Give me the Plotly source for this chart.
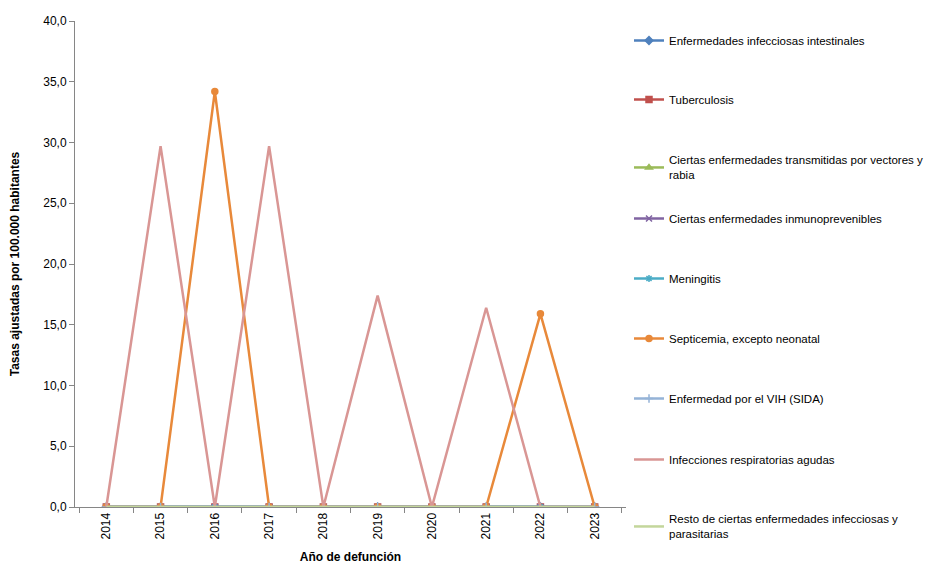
import plotly.graph_objects as go

years = ["2014", "2015", "2016", "2017", "2018", "2019", "2020", "2021", "2022", "2023"]

series_names = [
    "Enfermedades infecciosas intestinales",
    "Tuberculosis",
    "Ciertas enfermedades transmitidas por vectores y<br>rabia",
    "Ciertas enfermedades inmunoprevenibles",
    "Meningitis",
    "Septicemia, excepto neonatal",
    "Enfermedad por el VIH (SIDA)",
    "Infecciones respiratorias agudas",
    "Resto de ciertas enfermedades infecciosas y<br>parasitarias",
]

intestinales = [0, 0, 0, 0, 0, 0, 0, 0, 0, 0]
tuberculosis = [0, 0, 0, 0, 0, 0, 0, 0, 0, 0]
vectores = [0, 0, 0, 0, 0, 0, 0, 0, 0, 0]
inmunoprevenibles = [0, 0, 0, 0, 0, 0, 0, 0, 0, 0]
meningitis = [0, 0, 0, 0, 0, 0, 0, 0, 0, 0]
septicemia = [0, 0, 34.2, 0, 0, 0, 0, 0, 15.9, 0]
vih = [0, 0, 0, 0, 0, 0, 0, 0, 0, 0]
respiratorias = [0, 29.7, 0, 29.7, 0, 17.4, 0, 16.4, 0, 0]
resto = [0, 0, 0, 0, 0, 0, 0, 0, 0, 0]

values = [intestinales, tuberculosis, vectores, inmunoprevenibles, meningitis,
          septicemia, vih, respiratorias, resto]
colors = ["#4F81BD", "#C0504D", "#9BBB59", "#8064A2", "#4BACC6",
          "#E8893A", "#95B3D7", "#D99694", "#C3D69B"]
symbols = ["diamond", "square", "triangle-up", "x-thin", "asterisk",
           "circle", "cross-thin", None, None]

# legend item centre positions (px from top of window)
legend_centers = [40, 99, 160, 218, 278, 338, 398, 459, 519]

OFF = 8  # default page body margin
W, H = 934 - OFF, 564 - OFF
fig = go.Figure()
legend_layouts = {}
for i, (name, vals, col, sym) in enumerate(zip(series_names, values, colors, symbols)):
    if sym is None:
        mode = "lines"
        marker = dict()
    else:
        mode = "lines+markers"
        marker = dict(symbol=sym, size=6, color=col, line=dict(color=col, width=1.5))
    lg = "legend" if i == 0 else f"legend{i + 1}"
    fig.add_trace(go.Scatter(
        x=years, y=vals, name=name, mode=mode,
        line=dict(color=col, width=2.5), marker=marker,
        legend=lg,
    ))
    top_px = legend_centers[i] - OFF - 14
    legend_layouts[lg] = dict(
        xref="container", yref="container",
        x=(670 - OFF - 41) / W, xanchor="left",
        y=1 - top_px / H, yanchor="top",
        font=dict(size=11.5, family="Liberation Sans, Arial", color="#000000"),
        itemwidth=30, bgcolor="rgba(0,0,0,0)",
    )

fig.update_layout(
    width=W, height=H,
    paper_bgcolor="white", plot_bgcolor="white",
    margin=dict(l=75 - OFF, r=934 - 626, t=21 - OFF, b=564 - 507),
    separators=",.",
    font=dict(family="Liberation Sans, Arial", size=12, color="#000000"),
    showlegend=True,
    xaxis=dict(
        type="category", tickangle=-90, showline=True, linecolor="#868686",
        linewidth=1, ticks="outside", tickson="boundaries", ticklen=5,
        tickcolor="#868686", showgrid=False, zeroline=False, automargin=False,
        title=dict(text="<b>Año de defunción</b>", standoff=14, font=dict(size=12)),
        tickfont=dict(size=12),
    ),
    yaxis=dict(
        range=[0, 40], dtick=5, tickformat=".1f", showline=True,
        linecolor="#868686", linewidth=1, ticks="outside", ticklen=5,
        tickcolor="#868686", showgrid=False, zeroline=False, automargin=False,
        title=dict(text="<b>Tasas ajustadas por 100.000 habitantes</b>", standoff=21, font=dict(size=12)),
        tickfont=dict(size=12),
    ),
    **legend_layouts,
)

fig.write_html("out.html")
